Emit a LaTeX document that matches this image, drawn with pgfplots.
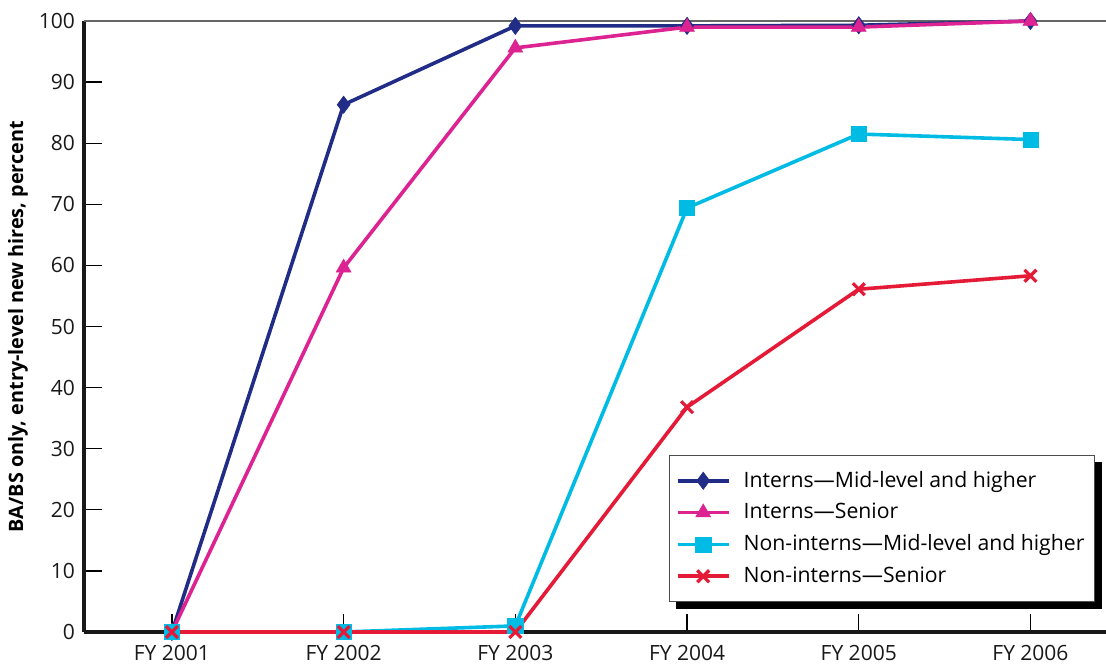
\documentclass[border=0pt]{standalone}
\usepackage{fontspec}
\setmainfont{Open Sans}
\usepackage{pgfplots}
\pgfplotsset{compat=1.18}
\usetikzlibrary{calc}
\pgfdeclarelayer{background}
\pgfsetlayers{background,main}
\definecolor{cNavy}{RGB}{33,44,135}
\definecolor{cMag}{RGB}{221,35,146}
\definecolor{cCyan}{RGB}{0,187,228}
\definecolor{cRed}{RGB}{228,26,55}
\begin{document}
\begin{tikzpicture}
\begin{axis}[
  scale only axis,
  width=511pt, height=305.5pt,
  xmin=-0.512, xmax=5.44,
  ymin=0, ymax=100,
  axis x line*=bottom, axis y line*=left,
  axis line style={-, line width=1.6pt, black!90},
  xtick={0,1,2,3,4,5},
  xticklabels={FY 2001,FY 2002,FY 2003,FY 2004,FY 2005,FY 2006},
  ytick={0,10,...,100},
  tick align=inside,
  major tick length=9pt,
  tick style={black, line width=0.6pt},
  extra y ticks={100},
  extra y tick labels={},
  extra y tick style={grid=major, major grid style={black!60, line width=0.8pt}, major tick length=0pt},
  /pgf/number format/assume math mode=true,
  tick label style={font=\fontsize{10.5}{12}\selectfont, black!90},
  xticklabel style={yshift=-3pt},
  yticklabel style={xshift=-1pt},
  ylabel={BA/BS only, entry-level new hires, percent},
  ylabel style={at={(axis description cs:-0.0646,0.5)}, anchor=center, font=\bfseries\fontsize{9.9}{11}\selectfont},
  every axis plot/.append style={line width=1.8pt},
  legend style={name=leg, at={(0.989,0.29)}, anchor=north east, draw=black!70, fill=white,
    font=\fontsize{10.6}{12}\selectfont, row sep=2.5pt, inner xsep=3pt, inner ysep=6pt,
    /tikz/every odd column/.append style={column sep=4.5pt}},
  legend cell align=left,
  legend image code/.code={\draw[mark repeat=2,mark phase=2] plot coordinates {(0cm,0cm)(0.45cm,0cm)(0.9cm,0cm)};},
  clip=false,
]
\addplot[cNavy, mark=diamond*, mark size=4.3pt, mark options={solid, line width=0.3pt}] coordinates {(0,0) (1,86.3) (2,99.2) (3,99.2) (4,99.3) (5,100)};
\addlegendentry{Interns---Mid-level and higher}
\addplot[cMag, mark=triangle*, mark size=4.3pt, mark options={solid, line width=0.3pt}] coordinates {(0,0) (1,59.6) (2,95.6) (3,99.0) (4,99.0) (5,100)};
\addlegendentry{Interns---Senior}
\addplot[cCyan, mark=square*, mark size=3.8pt, mark options={solid, line width=0.3pt}] coordinates {(0,0) (1,0) (2,1.0) (3,69.4) (4,81.5) (5,80.6)};
\addlegendentry{Non-interns---Mid-level and higher}
\addplot[cRed, mark=x, mark size=4.2pt, mark options={solid, line width=1.6pt}] coordinates {(0,0) (1,0) (2,0) (3,36.8) (4,56.1) (5,58.3)};
\addlegendentry{Non-interns---Senior}
\end{axis}
\begin{pgfonlayer}{background}
\fill[black] ($(leg.south west)+(3.5pt,-3.5pt)$) rectangle ($(leg.north east)+(3.5pt,-3.5pt)$);
\end{pgfonlayer}
\pgfresetboundingbox
\path ($(current axis.south west)+(-42pt,-19pt)$) rectangle ($(current axis.north east)+(0pt,10.5pt)$);
\end{tikzpicture}
\end{document}
